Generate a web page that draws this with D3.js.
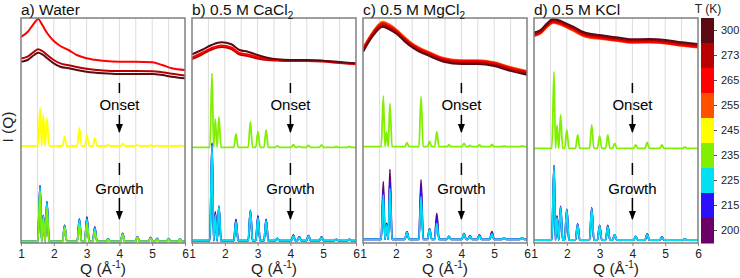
<!DOCTYPE html>
<html>
<head>
<meta charset="utf-8">
<script src="https://cdn.jsdelivr.net/npm/d3@7"></script>
<style>
  body { margin: 0; background: #fff; }
  svg { font-family: "Liberation Sans", Arial, sans-serif; }
</style>
</head>
<body>
<svg id="chart" width="740" height="278"></svg>
<script>
// temperature legend
const tempLabels = ["300", "273", "265", "255", "245", "235", "225", "215", "200"];
const tempColors = ["#5c0a12", "#b80000", "#ff0000", "#ff5000", "#ffff00", "#80f000", "#00e0f0", "#2a10ff", "#6a0068"];
const qTicks = [1, 2, 3, 4, 5, 6];
const gridQ = [1.5, 2, 2.5, 3, 3.5, 4, 4.5, 5, 5.5];

// a) Water
const waterLiquidQ = [1, 1.2, 1.4, 1.52, 1.65, 1.8, 2.0, 2.2, 2.45, 2.7, 3.0, 3.5, 4.0, 4.5, 5.0, 5.3, 5.6, 6.0];
const waterLiquid265 = [206, 211, 219.7, 224, 218, 209.7, 202, 197, 193, 188, 184.7, 182.3, 181.3, 181.3, 180.7, 178, 174.7, 173];
const waterLiquid273 = [184.5, 186.3, 191.3, 193.8, 192, 188, 183, 179.6, 177.8, 176, 174.3, 172.6, 172, 172, 171.8, 170.8, 169.2, 167.6];
const waterLiquid300 = [181.3, 183, 188, 190.3, 188.7, 184.7, 179.7, 176.3, 174.7, 173, 171.3, 169.7, 169, 169, 169, 168, 166.3, 164.7];
const waterPeakQ = [1.58, 1.68, 1.79, 2.33, 2.78, 3.01, 3.25, 3.66, 4.10, 4.55, 4.95, 5.15, 5.5, 5.85];
const waterOnset245 = [135, 128, 125, 106.3, 115, 108, 105, 98, 99.5, 98.2, 98, 97.5, 97.5, 97.5];
const waterGrowth235 = [51.3, 25, 35, 15.7, 18, 19.7, 11.3, 3.5, 8, 5.7, 4.7, 3.5, 3.5, 3.5];
const waterGrowth225 = [56.3, 27, 40.3, 17, 23, 24, 15, 3.8, 9, 6, 5, 4, 4, 4];
const waterGrowth215 = [57, 27.5, 41, 17.5, 23.5, 25, 15.5, 4, 9.3, 6.2, 5.3, 4.2, 4.2, 4];
const waterGrowth200 = [57.3, 27.5, 41, 17.5, 24, 26, 16, 4, 9.5, 6.3, 5.5, 4.5, 4.3, 4];

// b) CaCl2
const cacl2LiquidQ = [1, 1.3, 1.6, 1.9, 2.2, 2.45, 2.7, 3.0, 3.3, 3.6, 4.0, 4.5, 5.0, 5.5, 6.0];
const cacl2Liquid273 = [184, 188.5, 193.5, 196, 194, 188.5, 187, 184.5, 183, 182.5, 182, 182, 181.5, 180, 178.7];
const cacl2Liquid265 = [185.5, 190, 195, 197.5, 195.5, 190, 188.5, 186, 184, 183, 182.5, 182.5, 182, 180.5, 179];
const cacl2Liquid300 = [188.7, 193, 198, 200.7, 198.7, 193, 191.3, 188, 185.3, 183.7, 183, 183, 182.3, 181, 179.7];
const cacl2PeakQ = [1.61, 1.71, 1.82, 2.34, 2.78, 3.01, 3.26, 3.6, 4.09, 4.27, 4.55, 4.95, 5.4, 5.8];
const cacl2Onset235 = [169.7, 124, 126, 109, 121.3, 111.3, 113, 97, 98.3, 96.7, 97.7, 98, 96.5, 96.5];
const cacl2Growth225 = [98, 28, 36.3, 21.3, 32, 25, 22.3, 4.5, 7, 5.5, 7, 5.7, 3.5, 3.5];
const cacl2Growth215 = [99, 30, 36.5, 23, 32.3, 26.5, 23.3, 4.5, 7.5, 5.8, 7.2, 5.8, 3.5, 3.5];
const cacl2Growth200 = [100, 31.3, 36.5, 23.7, 32.5, 27, 23.7, 4.5, 8, 6, 7.5, 6, 3.5, 3.5];

// c) MgCl2
const mgcl2LiquidQ = [1, 1.3, 1.6, 1.8, 2.03, 2.25, 2.43, 2.7, 3.0, 3.46, 4.0, 4.5, 5.0, 5.4, 5.9, 6.0];
const mgcl2Liquid245 = [193, 209.5, 221.8, 217.5, 211.5, 204.5, 199.5, 193.5, 189.5, 183.5, 181.3, 181.3, 179.3, 175.3, 171.3, 170.5];
const mgcl2Liquid255 = [195, 211, 221, 218.5, 213, 206.3, 201.3, 195.5, 191.2, 185, 182.8, 182.8, 180.8, 176.8, 172.8, 172];
const mgcl2Liquid265 = [194, 210, 219.7, 217, 212, 205.3, 200.3, 194.7, 190.3, 184.3, 182, 182, 180, 176, 172, 171.3];
const mgcl2Liquid273 = [192.5, 208.5, 218, 215.3, 210.5, 203.8, 198.8, 193.2, 188.8, 182.8, 180.5, 180.5, 178.5, 174.5, 170.5, 169.8];
const mgcl2Liquid300 = [191, 207, 216.3, 213.7, 209, 202.3, 197.3, 191.7, 187.3, 181.3, 179, 179, 177, 173, 169, 168.3];
const mgcl2PeakQ = [1.62, 1.72, 1.82, 2.34, 2.77, 3.03, 3.25, 3.62, 4.08, 4.26, 4.55, 4.93, 5.3, 5.85];
const mgcl2Onset235 = [147, 111, 139.7, 100.3, 146.3, 101.3, 111.3, 98, 99.7, 97.5, 98, 98.7, 97, 97];
const mgcl2Growth225 = [48, 18, 54.7, 10.7, 46.3, 13.7, 19.7, 6.3, 9, 6.5, 7, 9, 5, 5];
const mgcl2Growth215 = [53, 19, 63, 11, 55, 14, 25, 6.5, 9.3, 6.8, 7.5, 10, 5, 5];
const mgcl2Growth200 = [61.3, 19.7, 73.7, 11, 63, 14, 29.7, 6.5, 9.5, 7, 8, 11.3, 5, 5];

// d) KCl
const kclLiquidQ = [1, 1.2, 1.4, 1.58, 1.8, 1.97, 2.2, 2.48, 2.75, 3.0, 3.5, 4.0, 4.5, 5.0, 5.5, 6.0];
const kclLiquid255 = [207, 209.5, 216, 220.3, 218.5, 215.8, 212.2, 207.2, 205, 204.3, 202.2, 200.3, 200.6, 199.6, 197.3, 195.6];
const kclLiquid265 = [207.5, 210, 216.7, 221, 219.3, 216.7, 213.3, 208.3, 206, 205, 202.7, 200.7, 201, 200, 197.7, 196];
const kclLiquid273 = [209, 211.5, 218.2, 222.5, 220.8, 218.2, 214.8, 209.8, 207.5, 206.5, 204.2, 202.2, 202.5, 201.5, 199.2, 197.5];
const kclLiquid300 = [210.5, 213, 219.7, 224, 222.3, 219.7, 216.3, 211.3, 209, 208, 205.7, 203.7, 204, 203, 200.7, 199];
const kclPeakQ = [1.61, 1.70, 1.81, 2.00, 2.33, 2.76, 3.00, 3.25, 3.46, 4.10, 4.45, 4.90, 5.6];
const kclOnset235 = [171.3, 118, 128, 113, 108, 118, 107, 108, 99.7, 98, 100.7, 98, 96];
const kclGrowth225 = [77, 25.7, 35.7, 33, 18, 34, 17, 16.3, 8, 6.3, 8.7, 5.7, 4];
const kclGrowth215 = [77, 26.5, 36, 33.3, 18.5, 34.5, 17.3, 17, 8, 6.4, 8.8, 5.8, 4];
const kclGrowth200 = [77.5, 27, 36.5, 33.5, 19, 35, 17.5, 17.5, 8, 6.5, 9, 6, 4];

const panels = [
  { title: "a) Water", sub: "", liqQ: waterLiquidQ,
    liquid: [["273", waterLiquid273], ["300", waterLiquid300], ["265", waterLiquid265]],
    peakQ: waterPeakQ, onsetBase: 97, growthBase: 1.5,
    onset: [["245", waterOnset245]],
    growth: [["200", waterGrowth200], ["215", waterGrowth215], ["225", waterGrowth225], ["235", waterGrowth235]] },
  { title: "b) 0.5 M CaCl", sub: "2", liqQ: cacl2LiquidQ,
    liquid: [["273", cacl2Liquid273], ["265", cacl2Liquid265], ["300", cacl2Liquid300]],
    peakQ: cacl2PeakQ, onsetBase: 95.7, growthBase: 2.3,
    onset: [["235", cacl2Onset235]],
    growth: [["200", cacl2Growth200], ["215", cacl2Growth215], ["225", cacl2Growth225]] },
  { title: "c) 0.5 M MgCl", sub: "2", liqQ: mgcl2LiquidQ,
    liquid: [["245", mgcl2Liquid245], ["255", mgcl2Liquid255], ["265", mgcl2Liquid265], ["273", mgcl2Liquid273], ["300", mgcl2Liquid300]],
    peakQ: mgcl2PeakQ, onsetBase: 96.3, growthBase: 3.7,
    onset: [["235", mgcl2Onset235]],
    growth: [["200", mgcl2Growth200], ["215", mgcl2Growth215], ["225", mgcl2Growth225]] },
  { title: "d) 0.5 M KCl", sub: "", liqQ: kclLiquidQ,
    liquid: [["255", kclLiquid255], ["265", kclLiquid265], ["273", kclLiquid273], ["300", kclLiquid300]],
    peakQ: kclPeakQ, onsetBase: 94.7, growthBase: 3,
    onset: [["235", kclOnset235]],
    growth: [["200", kclGrowth200], ["215", kclGrowth215], ["225", kclGrowth225]] }
];

const svg = d3.select("#chart");
const plotTop = 18, plotBottom = 243, panelW = 164;
const panelLeft = [21, 192, 363, 534];

const color = d3.scaleOrdinal().domain(tempLabels).range(tempColors);
const y = d3.scaleLinear().domain([0, 225]).range([plotBottom, plotTop]);

// arrow marker
svg.append("defs").append("marker")
  .attr("id", "arrow")
  .attr("viewBox", "0 0 10 10")
  .attr("refX", 9).attr("refY", 5)
  .attr("markerWidth", 6).attr("markerHeight", 6)
  .attr("orient", "auto")
  .append("path").attr("d", "M0,1 L10,5 L0,9 z").attr("fill", "#000");

// turn a list of read peaks into a peak profile (baseline - top - baseline)
function peakPoints(qs, tops, base, w) {
  const pts = [[1, base]];
  const push = (q, v) => {
    if (q > pts[pts.length - 1][0] + 1e-6) pts.push([q, v]);
  };
  qs.forEach((q, i) => {
    const lo = i > 0 ? Math.max(q - w, (q + qs[i - 1]) / 2) : q - w;
    const hi = i < qs.length - 1 ? Math.min(q + w, (q + qs[i + 1]) / 2) : q + w;
    push(lo, base);
    push(q, tops[i]);
    push(hi, base);
  });
  push(6, base);
  return pts;
}

panels.forEach((p, k) => {
  const x0 = panelLeft[k];
  const x = d3.scaleLinear().domain([1, 6]).range([x0, x0 + panelW]);
  const g = svg.append("g");

  g.append("clipPath").attr("id", "clip" + k)
    .append("rect").attr("x", x0).attr("y", plotTop).attr("width", panelW).attr("height", plotBottom - plotTop);

  // gridlines
  g.selectAll(".grid").data(gridQ).join("line")
    .attr("x1", d => x(d)).attr("x2", d => x(d))
    .attr("y1", plotTop).attr("y2", plotBottom)
    .attr("stroke", "#dcdcdc").attr("stroke-width", 1);

  const plot = g.append("g").attr("clip-path", `url(#clip${k})`);

  const smooth = d3.line().x(d => x(d[0])).y(d => y(d[1])).curve(d3.curveMonotoneX);

  // liquid curves
  p.liquid.forEach(([t, vals]) => {
    plot.append("path")
      .datum(p.liqQ.map((q, i) => [q, vals[i]]))
      .attr("d", smooth)
      .attr("fill", "none")
      .attr("stroke", color(t))
      .attr("stroke-width", 2);
  });

  // onset and growth patterns
  const crystal = (list, base) => list.forEach(([t, vals]) => {
    plot.append("path")
      .datum(peakPoints(p.peakQ, vals, base, 0.065))
      .attr("d", smooth)
      .attr("fill", "none")
      .attr("stroke", color(t))
      .attr("stroke-width", 1.8)
      .attr("stroke-linejoin", "round");
  });
  crystal(p.onset, p.onsetBase);
  crystal(p.growth, p.growthBase);

  // annotations at Q = 4
  const ax = x(4);
  const note = (lineTop, lineBot, label, textY, arrTop, arrBot) => {
    g.append("line").attr("x1", ax).attr("x2", ax)
      .attr("y1", y(lineTop)).attr("y2", y(lineBot))
      .attr("stroke", "#000").attr("stroke-width", 1.5);
    g.append("text").attr("x", ax).attr("y", y(textY))
      .attr("text-anchor", "middle").attr("font-size", 15).text(label);
    g.append("line").attr("x1", ax).attr("x2", ax)
      .attr("y1", y(arrTop)).attr("y2", y(arrBot))
      .attr("stroke", "#000").attr("stroke-width", 1.5)
      .attr("marker-end", "url(#arrow)");
  };
  note(160, 150, "Onset", 133.5, 128, 111);
  note(80, 68, "Growth", 49, 45, 24);

  // frame
  g.append("rect")
    .attr("x", x0).attr("y", plotTop).attr("width", panelW).attr("height", plotBottom - plotTop)
    .attr("fill", "none").attr("stroke", "#808080").attr("stroke-width", 1.5);

  // x axis
  const axis = g.append("g").attr("transform", `translate(0,${plotBottom})`)
    .call(d3.axisBottom(x).tickValues(qTicks).tickSize(3).tickFormat(d3.format("d")));
  axis.select(".domain").remove();
  axis.selectAll("line").attr("stroke", "#808080");
  axis.selectAll("text").attr("font-size", 12).attr("fill", "#222")
    .attr("font-family", "Liberation Sans, Arial, sans-serif");

  const xl = g.append("text")
    .attr("x", x0 + panelW / 2).attr("y", 274)
    .attr("text-anchor", "middle").attr("font-size", 15.5).attr("fill", "#222");
  xl.append("tspan").text("Q (Å");
  xl.append("tspan").attr("font-size", 10).attr("dy", -6).text("-1");
  xl.append("tspan").attr("dy", 6).text(")");

  // title
  const tt = g.append("text").attr("x", x0).attr("y", 14.5)
    .attr("font-size", 15.5).attr("fill", "#111").text(p.title);
  if (p.sub) tt.append("tspan").attr("font-size", 10).attr("dy", 4).text(p.sub);
});

// y label
svg.append("text")
  .attr("transform", "translate(12.5,127) rotate(-90)")
  .attr("text-anchor", "middle").attr("font-size", 15.5).attr("fill", "#222")
  .text("I (Q)");

// colour bar
const cb = d3.scaleBand().domain(tempLabels).range([plotTop, plotBottom]);
const cbx = 701, cbw = 13;
svg.append("g").selectAll("rect").data(tempLabels).join("rect")
  .attr("x", cbx).attr("y", d => cb(d))
  .attr("width", cbw).attr("height", cb.bandwidth() + 0.5)
  .attr("fill", d => color(d));
const cbAxis = svg.append("g").attr("transform", `translate(${cbx + cbw},0)`)
  .call(d3.axisRight(cb).tickSize(3).tickPadding(4));
cbAxis.select(".domain").remove();
cbAxis.selectAll("line").attr("stroke", "#555");
cbAxis.selectAll("text").attr("font-size", 11).attr("fill", "#222")
  .attr("font-family", "Liberation Sans, Arial, sans-serif");
svg.append("text").attr("x", 708).attr("y", 13)
  .attr("text-anchor", "middle").attr("font-size", 12).attr("fill", "#222").text("T (K)");
</script>
</body>
</html>
